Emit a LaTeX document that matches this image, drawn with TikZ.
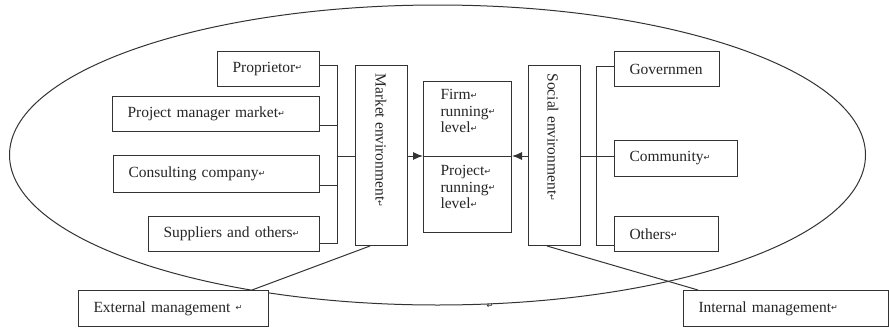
\documentclass[tikz,border=0pt]{standalone}
\usepackage{fontspec}
\setmainfont{Liberation Serif}
\newfontfamily\symfont{DejaVu Sans}
\usetikzlibrary{arrows.meta,calc}
% small paragraph mark placed after each label
\newcommand\retmark{{\symfont\fontsize{8}{8}\selectfont\raisebox{1.5pt}{↵}}}

\begin{document}
\begin{tikzpicture}[x=1pt,y=-1pt,
  line width=1pt,
  every node/.style={text=black!85, font=\fontsize{15.5}{16.5}\selectfont},
  lbox/.style={draw=black!80, fill=white, inner xsep=15pt, inner ysep=0pt,
               align=left, anchor=north west},
  vbox/.style={draw=black!80, fill=white, inner sep=0pt, anchor=north west,
               minimum width=52pt, minimum height=180pt},
  vtext/.style={rotate=-90, anchor=west, inner sep=0pt},
  conn/.style={draw=black!80},
  arr/.style={draw=black!80, -{Latex[length=10pt,width=8pt]}}]

\useasboundingbox (0,0) rectangle (889,327);

% outer boundary
\draw[conn] (437.5,155) ellipse [x radius=428pt, y radius=150pt];

% end points of the links to the management boxes
\coordinate (extTop) at (252,290);
\coordinate (intTop) at (698,290);

% left column: market participants
\node[lbox, text width=72pt,  minimum height=35pt] (prop) at (217,51)  {Proprietor\retmark};
\node[lbox, text width=177pt, minimum height=35pt] (pmm)  at (112,96)  {Project manager market\retmark};
\node[lbox, text width=176pt, minimum height=37pt] (cons) at (113,155) {Consulting company\retmark};
\node[lbox, text width=141pt, minimum height=35pt] (supp) at (148,216) {Suppliers and others\retmark};

% right column: social participants
\node[lbox, text width=75pt, minimum height=35pt] (govt) at (614,51)  {Governmen};
\node[lbox, text width=93pt, minimum height=36pt] (comm) at (614,140) {Community\retmark};
\node[lbox, text width=74pt, minimum height=35pt] (oth)  at (614,216) {Others\retmark};

% environment boxes
\node[vbox] (market) at (355,65) {};
\node[vtext] (markettxt) at (381,73) {Market environment\retmark};
\node[vbox] (social) at (528,65) {};
\node[vtext] (socialtxt) at (553,73) {Social environment\retmark};

% central box
\node[draw=black!80, fill=white, inner sep=0pt, anchor=north west,
      minimum width=88pt, minimum height=151pt] (core) at (423,81) {};
\node[align=left, anchor=north west, inner sep=0pt] (firm) at (440,89)
  {Firm\retmark\\running\retmark\\level\retmark};
\node[align=left, anchor=north west, inner sep=0pt] (proj) at (440,165)
  {Project\retmark\\running\retmark\\level\retmark};

% management boxes
\node[lbox, text width=160pt, minimum height=36pt] (ext) at (78,290)  {External management \retmark};
\node[lbox, text width=175pt, minimum height=36pt] (int) at (683,290) {Internal management\retmark};

\node[inner sep=0pt] (pm) at (490,307) {\retmark};

% left bus
\coordinate (lb1) at (337,65);
\coordinate (lb2) at (337,125);
\coordinate (lb3) at (337,185);
\coordinate (lb4) at (337,243);
\coordinate (mid) at (467,156);
\coordinate (lbm) at (337,156);
\draw[conn] (prop.east |- lb1) -- (lb1) -- (lb4) -- (supp.east |- lb4);
\draw[conn] (pmm.east |- lb2) -- (lb2);
\draw[conn] (cons.east |- lb3) -- (lb3);
\draw[conn] (lbm) -- (market.west |- lbm);

% right bus
\coordinate (rb1) at (596,66);
\coordinate (rb4) at (596,245);
\draw[conn] (govt.west |- rb1) -- (rb1) -- (rb4) -- (oth.west |- rb4);
\draw[conn] (social.east |- mid) -- (comm.west |- mid);

% centre divider and arrows
\draw[conn] (core.west |- mid) -- (core.east |- mid);
\draw[arr] (market.east |- mid) -- (core.west |- mid);
\draw[arr] (social.west |- mid) -- (core.east |- mid);

% management links
\draw[conn] (extTop) -- ($(market.south west)+(15,0)$);
\draw[conn] ($(social.south west)+(19,0)$) -- (intTop);
\end{tikzpicture}
\end{document}
